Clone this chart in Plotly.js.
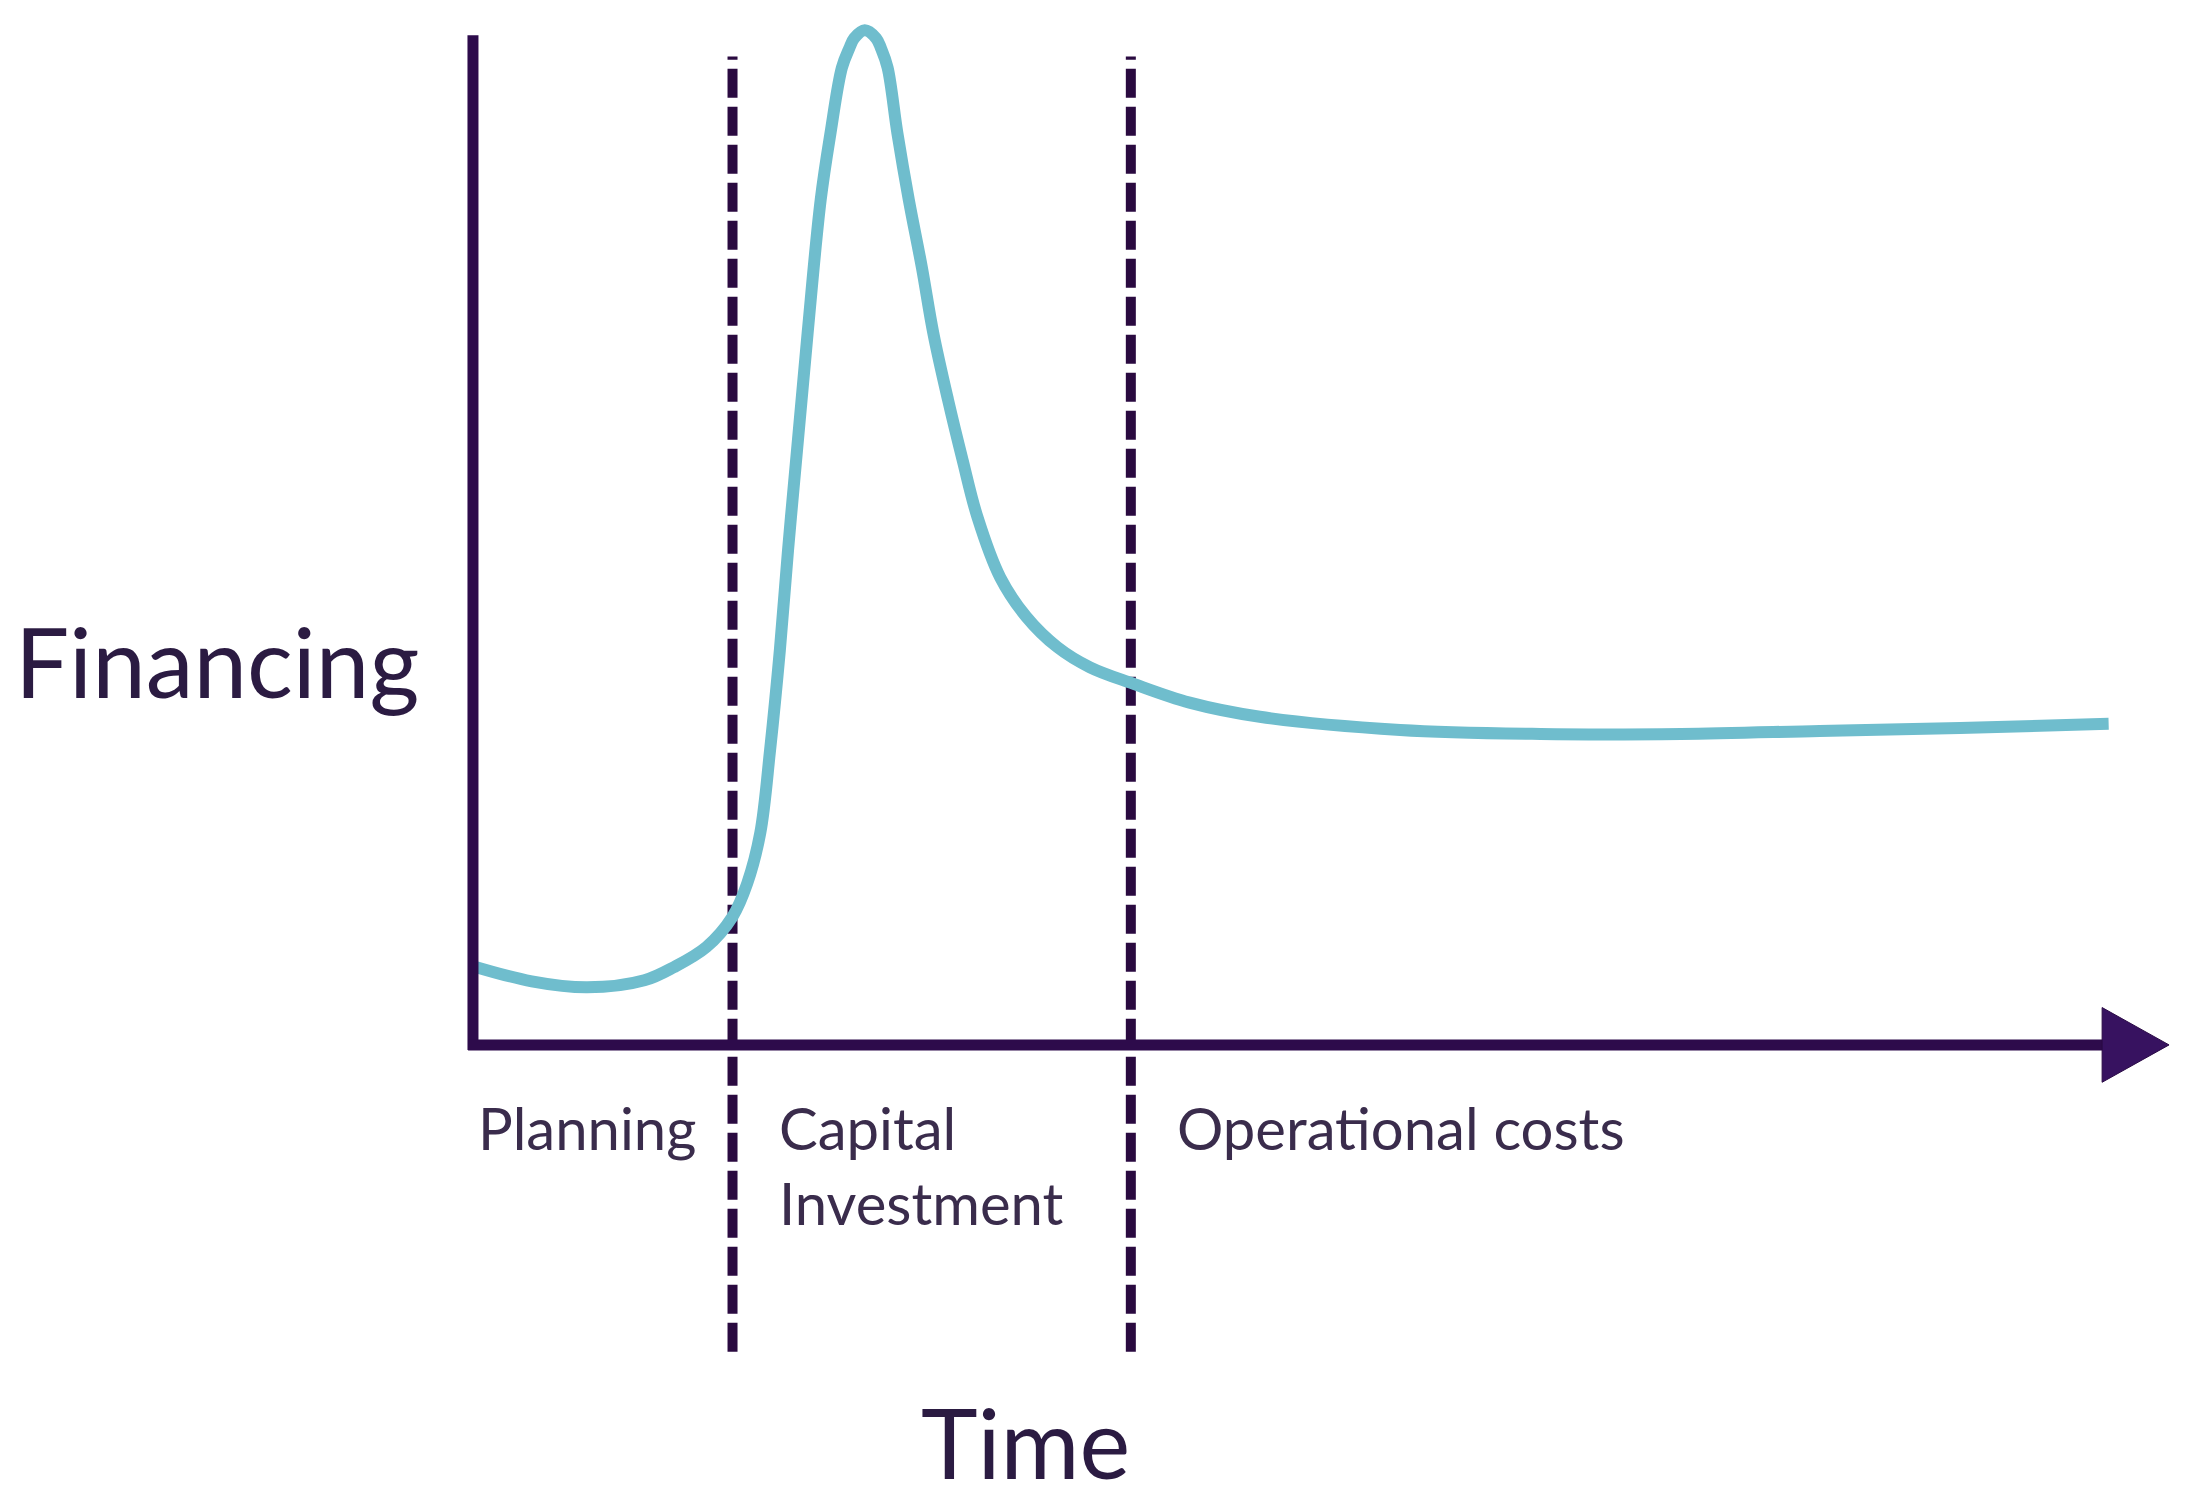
<!DOCTYPE html>
<html>
<head>
<meta charset="utf-8">
<script src="https://cdn.plot.ly/plotly-3.0.1.min.js"></script>
<style>
  html, body { margin: 0; padding: 0; background: #ffffff; }
  #chart { width: 2196px; height: 1512px; }
</style>
</head>
<body>
<div id="chart"></div>
<script>
// Financing need over the life of a project
const timeValues = [0, 3.6, 7.0, 10.5, 12.3, 14.3, 15.9, 16.8, 17.6, 18.2, 18.8, 19.3, 19.85, 20.5,
  21.3, 21.9, 22.6, 23.05, 23.35, 24.0, 24.7, 25.0, 25.4, 26.0, 26.7, 27.5, 28.2, 29.1, 30.0, 30.9, 32.3,
  33.9, 35.8, 37.8, 40.4, 43.9, 48.2, 56.8, 65.4, 74.0, 82.5, 91.1, 100.2];
const financingValues = [7.8, 6.3, 5.7, 6.4, 7.7, 9.7, 12.7, 16.0, 21.0, 29.2, 39.1, 49.0, 58.9, 70.5,
  83.7, 90.3, 96.8, 98.7, 99.7, 100.5, 99.7, 98.7, 96.8, 90.3, 83.7, 77.0, 70.5, 63.9, 57.9, 52.3, 46.3,
  42.4, 39.4, 37.4, 35.8, 33.9, 32.5, 31.2, 30.8, 30.8, 31.1, 31.4, 31.8];

// phase boundaries on the time axis, and phase names
const phaseBounds = [15.9, 40.3];
const phaseStarts = [0, 15.9, 40.3];
const phaseNames = ['Planning', 'Capital<br>Investment', 'Operational costs'];

const axisColor = '#2d0b4b';
const curveColor = '#6fbdcd';
const labelFont = 'Lato, "Open Sans", sans-serif';

// Axis lines and arrow head
let shapes = [
  { type: 'line', xref: 'x', yref: 'y', x0: 0, x1: 0, y0: -0.5, y1: 100,
    line: { color: axisColor, width: 11 } },
  { type: 'line', xref: 'x', yref: 'y', x0: -0.3, x1: 100, y0: 0, y1: 0,
    line: { color: axisColor, width: 11 } },
  { type: 'path', xref: 'x', yref: 'y', path: 'M 99.8 3.7 L 103.9 0 L 99.8 -3.7 Z',
    fillcolor: '#371260', line: { color: '#2a0a45', width: 1 } }
];

// Dashed phase boundaries
phaseBounds.forEach(function (b) {
  shapes.push({
    type: 'line', xref: 'x', yref: 'y', x0: b, x1: b, y0: -30.4, y1: 97.9,
    layer: 'below',
    line: { color: '#2a0a40', width: 10, dash: '29px,9px' }
  });
});

// Phase labels under the time axis
let annotations = phaseNames.map(function (name, i) {
  return {
    xref: 'x', yref: 'y',
    x: phaseStarts[i] + (i === 0 ? 0.2 : 2.7),
    y: -4.6,
    xanchor: 'left', yanchor: 'top', align: 'left',
    text: name, showarrow: false,
    font: { family: labelFont, size: 58, color: '#3a2c4c' }
  };
});

annotations.push({
  xref: 'paper', yref: 'paper', x: -0.1174, y: 0.519,
  xanchor: 'center', yanchor: 'middle',
  text: 'Financing', showarrow: false,
  font: { family: labelFont, size: 96, color: '#2b1b42' }
});
annotations.push({
  xref: 'paper', yref: 'paper', x: 0.341, y: -0.054,
  xanchor: 'center', yanchor: 'middle',
  text: 'Time', showarrow: false,
  font: { family: labelFont, size: 96, color: '#2b1b42' }
});

let data = [{
  type: 'scatter',
  mode: 'lines',
  x: timeValues,
  y: financingValues,
  line: { color: curveColor, width: 12, shape: 'spline', smoothing: 1, simplify: false },
  cliponaxis: false,
  hoverinfo: 'skip',
  showlegend: false
}];

let layout = {
  width: 2196,
  height: 1512,
  margin: { l: 424, r: 9.4, t: 4.7, b: 143.8 },
  paper_bgcolor: '#ffffff',
  plot_bgcolor: '#ffffff',
  showlegend: false,
  xaxis: {
    range: [-3, 105],
    showgrid: false, zeroline: false, showline: false,
    showticklabels: false, ticks: ''
  },
  yaxis: {
    range: [-32, 103],
    showgrid: false, zeroline: false, showline: false,
    showticklabels: false, ticks: ''
  },
  shapes: shapes,
  annotations: annotations
};

Plotly.newPlot('chart', data, layout, { displayModeBar: false, staticPlot: true });
</script>
</body>
</html>
